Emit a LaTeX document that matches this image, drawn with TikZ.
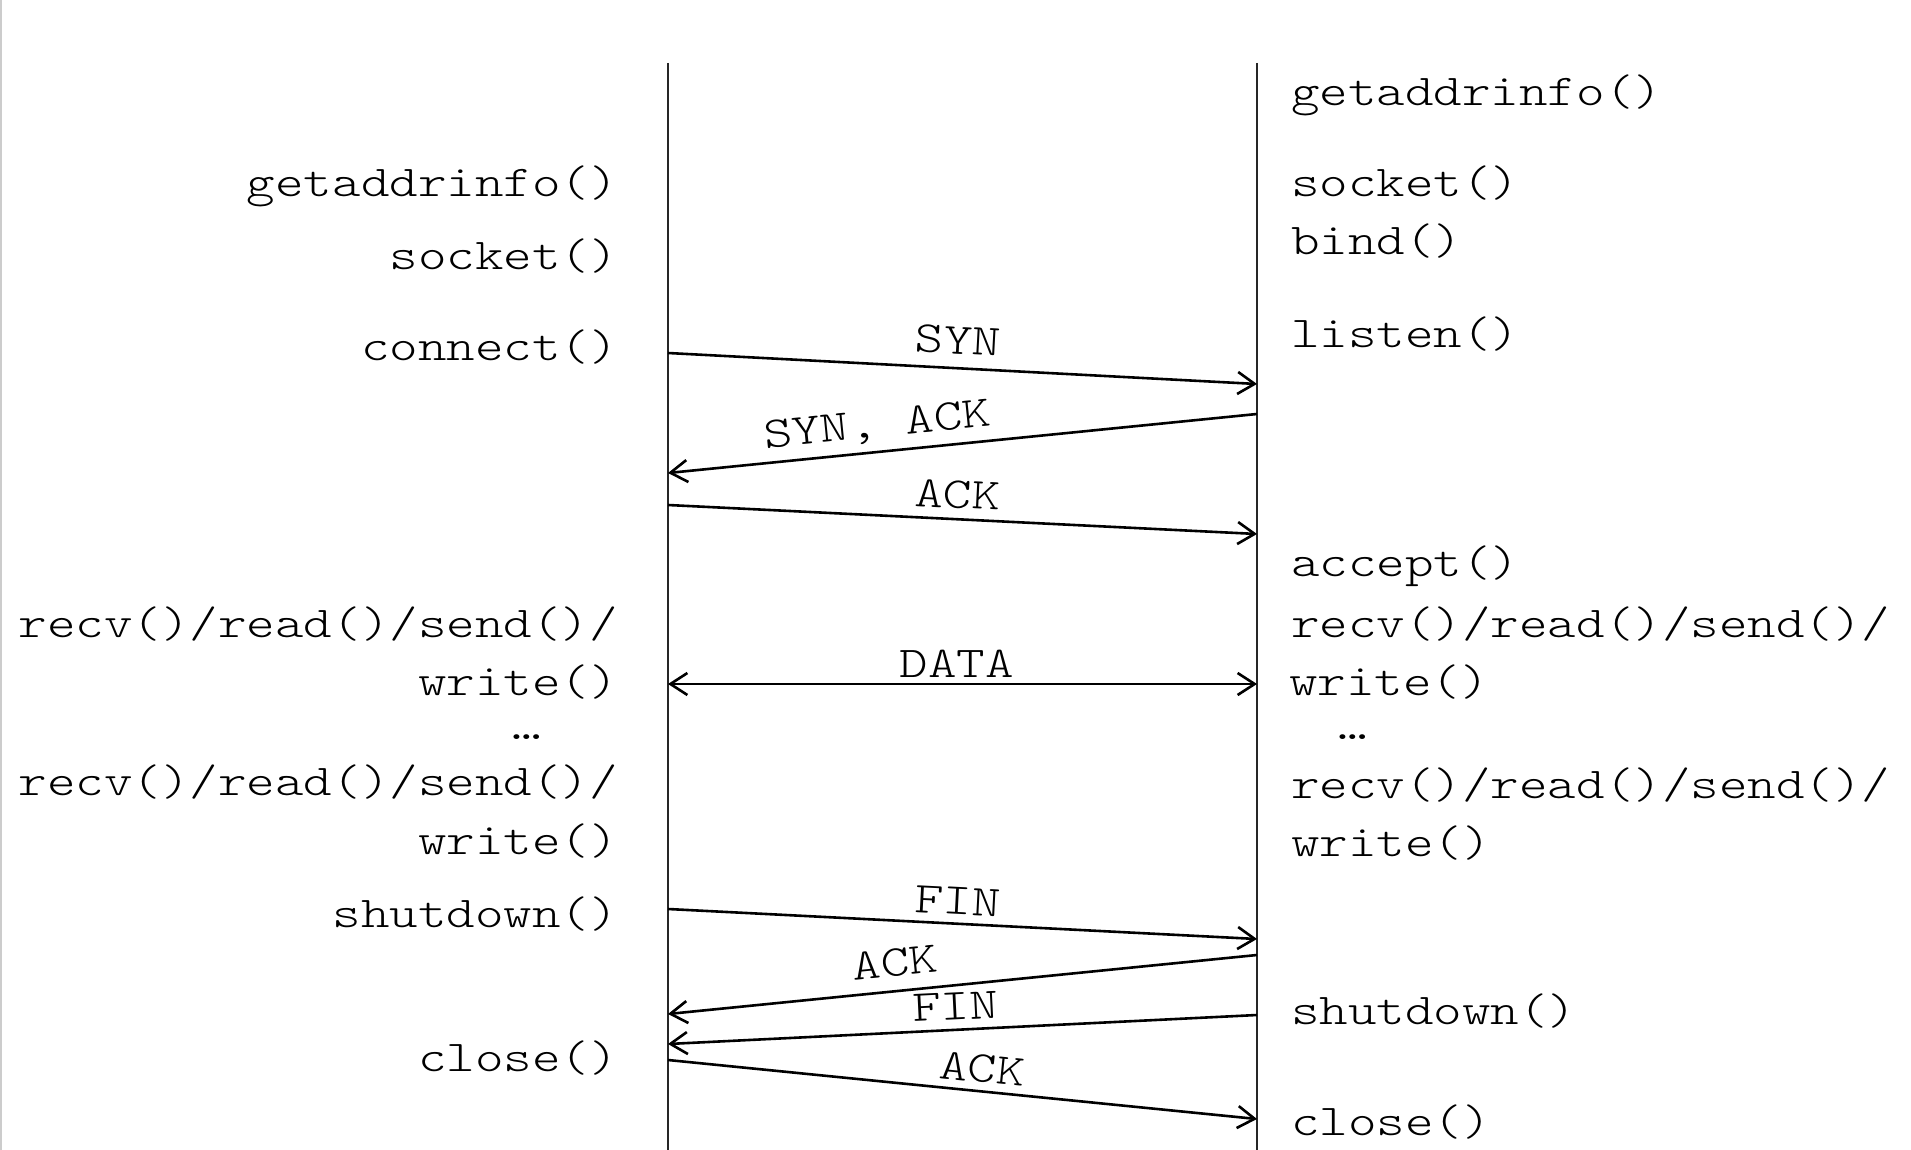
\documentclass[tikz,border=0pt]{standalone}
\usepackage{fontspec}
\setmonofont{Latin Modern Mono Light}[FakeStretch=1.235]
\usetikzlibrary{arrows.meta}
\begin{document}
\begin{tikzpicture}[x=1pt,y=-1pt,
  lbl/.style={font=\fontsize{44}{54}\selectfont\ttfamily, inner sep=0pt},
  lft/.style={lbl, anchor=base east},
  rgt/.style={lbl, anchor=base west},
  life/.style={line width=2pt, draw=black!85},
  msg/.style={line width=2.6pt},
  mlbl/.style={font=\fontsize{44}{54}\selectfont\ttfamily, sloped, anchor=base, text depth=0pt, inner sep=0pt, outer sep=0pt},
  >={Straight Barb[length=17pt,width=22pt]}
]
\useasboundingbox (0,0) rectangle (1911,1150);
\draw[gray!40, line width=1.5pt] (0.75,0) -- (0.75,1150);

% lifelines
\coordinate (Ltop) at (668,63);
\coordinate (Lbot) at (668,1150);
\coordinate (Rtop) at (1257,63);
\coordinate (Rbot) at (1257,1150);
\draw[life] (Ltop) -- (Lbot);
\draw[life] (Rtop) -- (Rbot);

% left labels
\node[lft] (lgai) at (618,197) {getaddrinfo()};
\node[lft] (lsock) at (618,270) {socket()};
\node[lft] (lconn) at (618,360) {connect()};
\node[lft] (lrw1a) at (618,637) {recv()/read()/send()/};
\node[lft] (lrw1b) at (618,695) {write()};
\node[lbl, anchor=base] (ldots) at (527,739) {…};
\node[lft] (lrw2a) at (618,795) {recv()/read()/send()/};
\node[lft] (lrw2b) at (618,854) {write()};
\node[lft] (lshut) at (618,927) {shutdown()};
\node[lft] (lclose) at (618,1071) {close()};

% right labels
\node[rgt] (rgai) at (1291,106) {getaddrinfo()};
\node[rgt] (rsock) at (1291,197) {socket()};
\node[rgt] (rbind) at (1291,255) {bind()};
\node[rgt] (rlist) at (1291,347) {listen()};
\node[rgt] (racc) at (1291,576) {accept()};
\node[rgt] (rrw1a) at (1291,637) {recv()/read()/send()/};
\node[rgt] (rrw1b) at (1289,695) {write()};
\node[lbl, anchor=base] (rdots) at (1353,739) {…};
\node[rgt] (rrw2a) at (1291,798) {recv()/read()/send()/};
\node[rgt] (rrw2b) at (1291,856) {write()};
\node[rgt] (rshut) at (1291,1024) {shutdown()};
\node[rgt] (rclose) at (1291,1135) {close()};

% message endpoints
\coordinate (a1) at (668,353);  \coordinate (b1) at (1257,384);
\coordinate (b2) at (1257,414); \coordinate (a2) at (668,473);
\coordinate (a3) at (668,505);  \coordinate (b3) at (1257,534);
\coordinate (a4) at (668,684);  \coordinate (b4) at (1257,684);
\coordinate (a5) at (668,909);  \coordinate (b5) at (1257,939);
\coordinate (b6) at (1257,955); \coordinate (a6) at (668,1014);
\coordinate (b7) at (1257,1015);\coordinate (a7) at (668,1044);
\coordinate (a8) at (668,1060); \coordinate (b8) at (1257,1119);

% messages
\draw[msg,->] (a1) -- node[mlbl, pos=0.49, yshift=14pt] (m1) {SYN} (b1);
\draw[msg,->] (b2) -- node[mlbl, pos=0.64, yshift=15pt] (m2) {SYN, ACK} (a2);
\draw[msg,->] (a3) -- node[mlbl, pos=0.49, yshift=11pt] (m3) {ACK} (b3);
\draw[msg,<->] (a4) -- node[mlbl, pos=0.49, yshift=7pt] (m4) {DATA} (b4);
\draw[msg,->] (a5) -- node[mlbl, pos=0.49, yshift=9pt] (m5) {FIN} (b5);
\draw[msg,->] (b6) -- node[mlbl, pos=0.61, yshift=15pt] (m6) {ACK} (a6);
\draw[msg,->] (b7) -- node[mlbl, pos=0.51, yshift=10pt] (m7) {FIN} (a7);
\draw[msg,->] (a8) -- node[mlbl, pos=0.53, yshift=9pt] (m8) {ACK} (b8);
\end{tikzpicture}
\end{document}
